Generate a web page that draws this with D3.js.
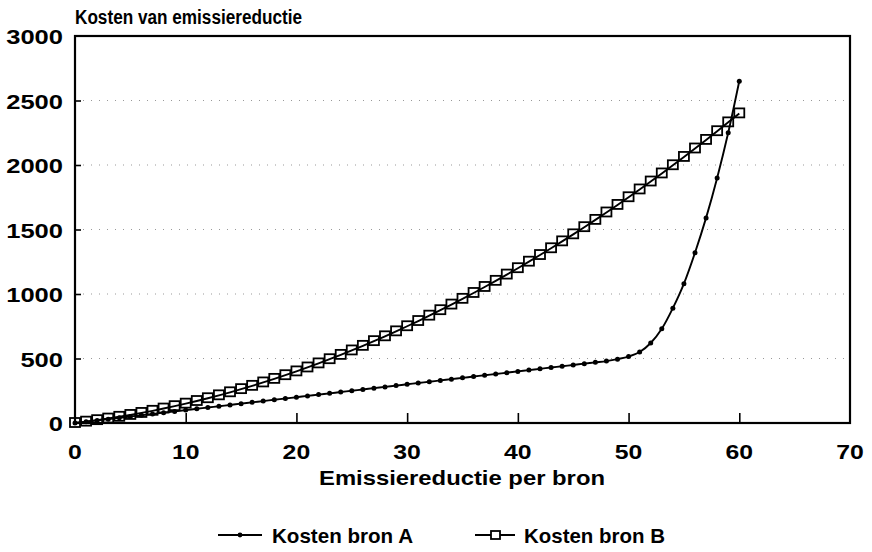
<!DOCTYPE html>
<html><head><meta charset="utf-8">
<script src="https://cdn.jsdelivr.net/npm/d3@7"></script>
<style>
html,body{margin:0;padding:0;background:#fff;}
svg text{font-family:"Liberation Sans",Arial,sans-serif;font-weight:bold;fill:#000;}
</style></head>
<body>
<svg id="chart" width="872" height="552"></svg>
<script>
const reduction = [0,1,2,3,4,5,6,7,8,9,10,11,12,13,14,15,16,17,18,19,20,21,22,23,24,25,26,27,28,29,30,31,32,33,34,35,36,37,38,39,40,41,42,43,44,45,46,47,48,49,50,51,52,53,54,55,56,57,58,59,60];
const costA = [0,10,20,30,40,50,60,70,80,90,100,110,120,130,140,150,160,170,180,190,200,210,220,230,240,250,260,270,280,290,300,310,320,330,340,350,360,370,380,390,400,410,420,430,440,450,460,470,480,495,515,550,620,730,890,1080,1320,1590,1900,2250,2650];
const costB = [0,10.5,22,34.5,48,62.5,78,94.5,112,130.5,150,170.5,192,214.5,238,262.5,288,314.5,342,370.5,400,430.5,462,494.5,528,562.5,598,634.5,672,710.5,750,790.5,832,874.5,918,962.5,1008,1054.5,1102,1150.5,1200,1250.5,1302,1354.5,1408,1462.5,1518,1574.5,1632,1690.5,1750,1810.5,1872,1934.5,1998,2062.5,2128,2194.5,2262,2330.5,2400];
const xTicks = [0,10,20,30,40,50,60,70];
const yTicks = [0,500,1000,1500,2000,2500,3000];
const seriesNames = ["Kosten bron A","Kosten bron B"];
const titleText = "Kosten van emissiereductie";
const xTitle = "Emissiereductie per bron";

const svg = d3.select("#chart");
const L = 75, R = 850, T = 36, B = 423;
const x = d3.scaleLinear().domain([0,70]).range([L,R]);
const y = d3.scaleLinear().domain([0,3000]).range([B,T]);

// gridlines
svg.append("g").selectAll("line").data(yTicks.filter(d=>d>0&&d<3000)).join("line")
  .attr("x1",L).attr("x2",R).attr("y1",d=>y(d)).attr("y2",d=>y(d))
  .attr("stroke","#999").attr("stroke-width",1).attr("stroke-dasharray","1,7");

// frame
svg.append("rect").attr("x",L).attr("y",T).attr("width",R-L).attr("height",B-T)
  .attr("fill","none").attr("stroke","#000").attr("stroke-width",2.2);

// axes with inward ticks
const xAxis = d3.axisTop(x).tickValues(xTicks.filter(d=>d>0&&d<70)).tickSize(10).tickFormat("");
svg.append("g").attr("transform",`translate(0,${B})`).call(xAxis)
  .call(g=>g.select(".domain").remove())
  .call(g=>g.selectAll("line").attr("stroke","#000").attr("stroke-width",1.6));
const yAxis = d3.axisRight(y).tickValues(yTicks.filter(d=>d>0&&d<3000)).tickSize(6).tickFormat("");
svg.append("g").attr("transform",`translate(${L},0)`).call(yAxis)
  .call(g=>g.select(".domain").remove())
  .call(g=>g.selectAll("line").attr("stroke","#000").attr("stroke-width",1.6));

// tick labels
svg.append("g").selectAll("text").data(yTicks).join("text")
  .attr("x",63).attr("y",d=>y(d)+8).attr("text-anchor","end")
  .attr("font-size",21).attr("textLength",d=>String(d).length*14.2).attr("lengthAdjust","spacingAndGlyphs")
  .text(d=>d);
svg.append("g").selectAll("text").data(xTicks).join("text")
  .attr("x",d=>x(d)).attr("y",459).attr("text-anchor","middle")
  .attr("font-size",20).attr("textLength",d=>String(d).length*13.8).attr("lengthAdjust","spacingAndGlyphs")
  .text(d=>d);

// titles
svg.append("text").attr("x",75).attr("y",24).attr("font-size",20)
  .attr("textLength",227).attr("lengthAdjust","spacingAndGlyphs").text(titleText);
svg.append("text").attr("x",319).attr("y",485).attr("font-size",21)
  .attr("textLength",286).attr("lengthAdjust","spacingAndGlyphs").text(xTitle);

const dataA = reduction.map((r,i)=>[r,costA[i]]);
const dataB = reduction.map((r,i)=>[r,costB[i]]);
const line = d3.line().x(d=>x(d[0])).y(d=>y(d[1])).curve(d3.curveMonotoneX);

svg.append("path").attr("d",line(dataB)).attr("fill","none").attr("stroke","#000").attr("stroke-width",1.9);
svg.append("path").attr("d",line(dataA)).attr("fill","none").attr("stroke","#000").attr("stroke-width",1.9);

const sq = 10;
svg.append("g").selectAll("rect").data(dataB).join("rect")
  .attr("x",d=>x(d[0])-sq/2).attr("y",d=>y(d[1])-sq/2).attr("width",sq).attr("height",sq-1)
  .attr("fill","none").attr("stroke","#000").attr("stroke-width",1.8);
svg.append("g").selectAll("circle").data(dataA).join("circle")
  .attr("cx",d=>x(d[0])).attr("cy",d=>y(d[1])).attr("r",2.5).attr("fill","#000");

// legend
const lg = svg.append("g");
lg.append("line").attr("x1",218).attr("x2",262).attr("y1",535).attr("y2",535).attr("stroke","#000").attr("stroke-width",1.8);
lg.append("circle").attr("cx",240).attr("cy",535).attr("r",2.4).attr("fill","#000");
lg.append("text").attr("x",272).attr("y",543).attr("font-size",20.5)
  .attr("textLength",141).attr("lengthAdjust","spacingAndGlyphs").text(seriesNames[0]);
lg.append("line").attr("x1",475).attr("x2",515).attr("y1",535).attr("y2",535).attr("stroke","#000").attr("stroke-width",1.8);
lg.append("rect").attr("x",491).attr("y",531).attr("width",9).attr("height",8).attr("fill","#fff").attr("stroke","#000").attr("stroke-width",1.8);
lg.append("text").attr("x",524).attr("y",543).attr("font-size",20.5)
  .attr("textLength",141).attr("lengthAdjust","spacingAndGlyphs").text(seriesNames[1]);
</script>
</body></html>
